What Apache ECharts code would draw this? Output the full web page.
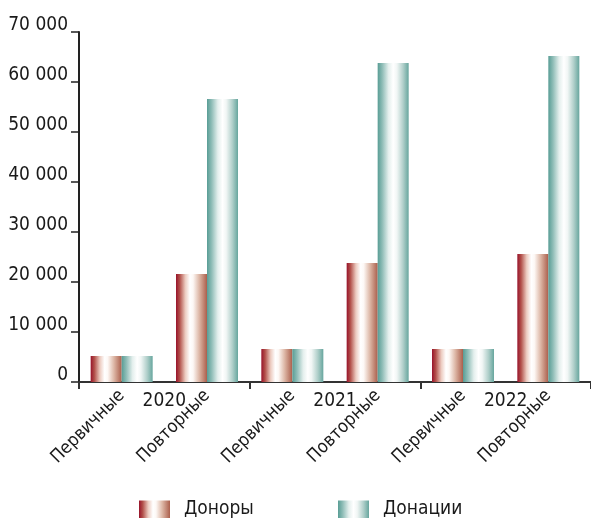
<!DOCTYPE html>
<html>
<head>
<meta charset="utf-8">
<script src="https://cdn.jsdelivr.net/npm/echarts@6/dist/echarts.min.js"></script>
<style>
  html, body { margin: 0; padding: 0; background: #fff; }
  #chart { width: 591px; height: 518px; }
</style>
</head>
<body>
<div id="chart"></div>
<script>
const categories = ['Первичные', 'Повторные', 'Первичные', 'Повторные', 'Первичные', 'Повторные'];
const years = ['2020', '2021', '2022'];
const donors = [5200, 21600, 6600, 23800, 6600, 25600];
const donations = [5200, 56600, 6600, 63800, 6600, 65200];
const yTicks = { min: 0, max: 70000, interval: 10000 };

const FONT = "'Liberation Sans Narrow', 'Arial Narrow', 'DejaVu Sans Condensed', sans-serif";
const TXT = '#1a1a1a';

const redGrad = {
  type: 'linear', x: 0, y: 0, x2: 1, y2: 0,
  colorStops: [
    { offset: 0, color: '#98132a' },
    { offset: 0.12, color: '#b2504a' },
    { offset: 0.3, color: '#eccbc0' },
    { offset: 0.45, color: '#ffffff' },
    { offset: 0.55, color: '#fdf8f5' },
    { offset: 0.75, color: '#ddb7a6' },
    { offset: 1, color: '#ab5f4c' }
  ]
};
const tealGrad = {
  type: 'linear', x: 0, y: 0, x2: 1, y2: 0,
  colorStops: [
    { offset: 0, color: '#589d95' },
    { offset: 0.15, color: '#8fbdb7' },
    { offset: 0.35, color: '#e4efed' },
    { offset: 0.5, color: '#ffffff' },
    { offset: 0.62, color: '#f1f6f5' },
    { offset: 0.82, color: '#b0cfca' },
    { offset: 1, color: '#67a69e' }
  ]
};

const chart = echarts.init(document.getElementById('chart'));
const fmt = v => String(v).replace(/\B(?=(\d{3})+(?!\d))/g, ' ');

const legendText = { fontFamily: FONT, fontSize: 19, color: TXT, padding: [0, 0, 0, 9] };

chart.setOption({
  animation: false,
  backgroundColor: '#fff',
  textStyle: { fontFamily: FONT, color: TXT },
  grid: { left: 79, right: 0, top: 32, bottom: 136, containLabel: false },
  legend: [
    {
      data: ['Доноры'], left: 139, top: 500, padding: 0, icon: 'rect',
      itemWidth: 31, itemHeight: 18, textStyle: legendText
    },
    {
      data: ['Донации'], left: 338, top: 500, padding: 0, icon: 'rect',
      itemWidth: 31, itemHeight: 18, textStyle: legendText
    }
  ],
  xAxis: [
    {
      type: 'category', data: categories, position: 'bottom',
      axisLine: { show: true, lineStyle: { color: '#333', width: 2 } },
      axisTick: { show: false },
      axisLabel: { interval: 0, rotate: 45, margin: 11, fontSize: 18, fontFamily: FONT, color: TXT }
    },
    {
      type: 'category', data: years, position: 'bottom',
      axisLine: { show: false },
      axisTick: { show: true, length: 7, lineStyle: { color: '#333', width: 2 } },
      axisLabel: { interval: 0, margin: 10, fontSize: 19, fontFamily: FONT, color: TXT }
    }
  ],
  yAxis: {
    type: 'value', min: yTicks.min, max: yTicks.max, interval: yTicks.interval,
    axisLine: { show: true, lineStyle: { color: '#222', width: 2 } },
    axisTick: { show: true, length: 8, lineStyle: { color: '#222', width: 1.5 } },
    splitLine: { show: false },
    axisLabel: {
      margin: 11, fontSize: 19, fontFamily: FONT, color: TXT,
      verticalAlign: 'bottom', lineHeight: 14,
      formatter: fmt
    }
  },
  series: [
    {
      name: 'Доноры', type: 'bar', xAxisIndex: 0, data: donors,
      barWidth: 31, barGap: '0%',
      itemStyle: { color: redGrad }
    },
    {
      name: 'Донации', type: 'bar', xAxisIndex: 0, data: donations,
      barWidth: 31, barGap: '0%',
      itemStyle: { color: tealGrad }
    }
  ]
});
</script>
</body>
</html>
